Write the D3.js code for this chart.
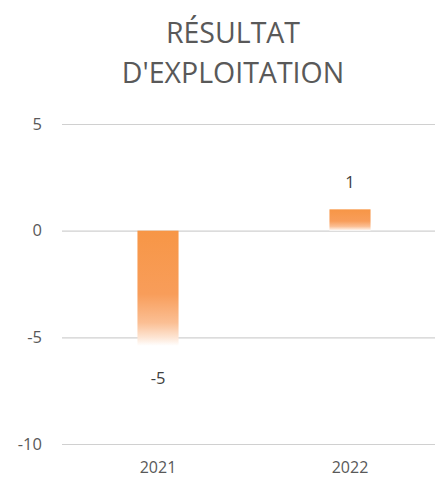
<!DOCTYPE html>
<html><head><meta charset="utf-8">
<script src="https://cdn.jsdelivr.net/npm/d3@7"></script>
<style>
html,body{margin:0;padding:0;background:#fff;overflow:hidden;}
svg{display:block;}
</style></head>
<body>
<svg id="chart" width="435" height="479"></svg>
<script>
const titleLines = ["RÉSULTAT", "D'EXPLOITATION"];
const categories = ["2021", "2022"];
const values = [-5.4, 1];
const yTicks = [-10, -5, 0, 5];

const W = 435, H = 479;
const svg = d3.select("#chart");
const font = "'Open Sans', sans-serif";
const fmt = v => String(Math.round(v));

const x = d3.scaleBand().domain(categories).range([62, 446]).paddingInner(0.786).paddingOuter(0.393);
const y = d3.scaleLinear().domain([-10, 5]).range([444, 124]);

const defs = svg.append("defs");
const grad = defs.append("linearGradient").attr("id", "barGrad")
  .attr("x1", 0).attr("y1", 0).attr("x2", 0).attr("y2", 1);
[[0, "#F79646"], [0.55, "#F89D5A"], [0.8, "#FBBF94"], [0.93, "#FDE6D5"], [1, "#FFFFFF"]]
  .forEach(s => grad.append("stop").attr("offset", s[0]).attr("stop-color", s[1]));

// gridlines via axis
const yAxis = d3.axisLeft(y).tickValues(yTicks).tickSize(-(446 - 62)).tickPadding(20).tickFormat(fmt);
const gy = svg.append("g").attr("transform", "translate(62,0)").call(yAxis);
gy.select(".domain").remove();
gy.selectAll(".tick line").attr("stroke", "#d0d0d0").attr("stroke-width", 1.2);
gy.selectAll(".tick text").attr("fill", "#595959").attr("font-family", font).attr("font-size", 16.5);

// bars
svg.append("g").selectAll("rect").data(categories).join("rect")
  .attr("x", d => x(d))
  .attr("width", x.bandwidth())
  .attr("y", (d, i) => y(Math.max(0, values[i])))
  .attr("height", (d, i) => Math.abs(y(values[i]) - y(0)))
  .attr("fill", "url(#barGrad)");

// data labels
svg.append("g").selectAll("text").data(categories).join("text")
  .attr("x", d => x(d) + x.bandwidth() / 2)
  .attr("y", (d, i) => values[i] >= 0 ? y(values[i]) - 21 : y(values[i]) + 38)
  .attr("text-anchor", "middle")
  .attr("font-family", font).attr("font-size", 16.5).attr("fill", "#404040")
  .text((d, i) => fmt(values[i]));

// x axis labels
const xAxis = d3.axisBottom(x).tickSize(0).tickPadding(0);
const gx = svg.append("g").attr("transform", "translate(0,462)").call(xAxis);
gx.select(".domain").remove();
gx.selectAll(".tick text").attr("fill", "#595959").attr("font-family", font).attr("font-size", 16).attr("dy", "0.71em");

// title
svg.append("g").selectAll("text").data(titleLines).join("text")
  .attr("x", 233)
  .attr("y", (d, i) => 43 + i * 39.5)
  .attr("text-anchor", "middle")
  .attr("font-family", font).attr("font-size", 28.5).attr("fill", "#595959")
  .text(d => d);
</script>
</body></html>
